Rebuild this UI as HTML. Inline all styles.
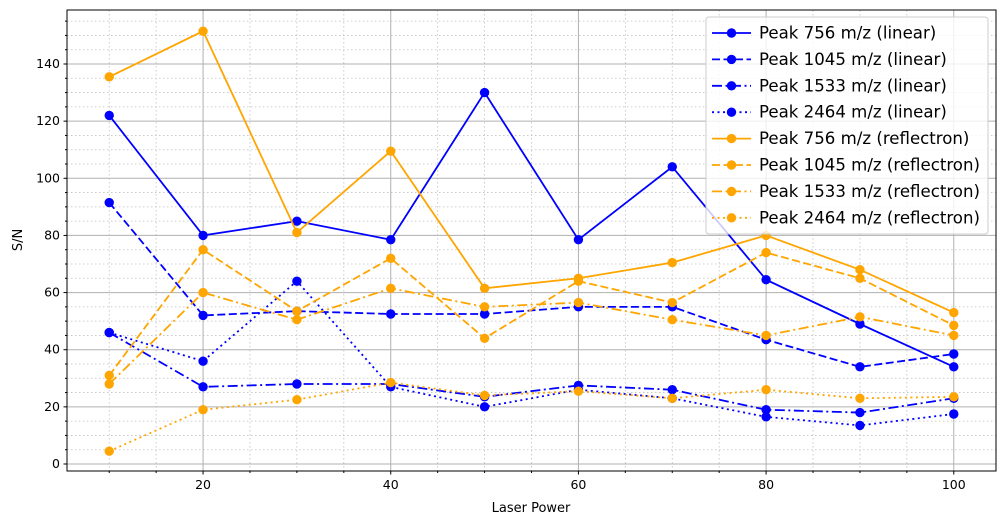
<!DOCTYPE html>
<html><head><meta charset="utf-8"><style>
body{margin:0;background:#fff;font-family:"Liberation Sans","DejaVu Sans",sans-serif}
</style></head><body>
<svg id="chart" width="1005" height="525" xmlns="http://www.w3.org/2000/svg" font-family="DejaVu Sans, Liberation Sans, sans-serif">
<g id="grid"></g>
<g id="series"></g>
<rect x="67" y="10" width="929" height="461" fill="none" stroke="#000" stroke-width="1"/>
<g id="ticks"></g>
<text x="531" y="512" font-size="13" text-anchor="middle">Laser Power</text>
<text transform="translate(22,240) rotate(-90)" font-size="13" text-anchor="middle">S/N</text>
<g id="legend"></g>
</svg>
<script>
const xValues=[10,20,30,40,50,60,70,80,90,100];
const lin756=[122,80,85,78.5,130,78.5,104,64.5,49,34];
const lin1045=[91.5,52,53.5,52.5,52.5,55,55,43.5,34,38.5];
const lin1533=[46,27,28,28,23.5,27.5,26,19,18,23];
const lin2464=[46,36,64,27,20,26,23,16.5,13.5,17.5];
const ref756=[135.5,151.5,81,109.5,61.5,65,70.5,80,68,53];
const ref1045=[31,75,53.5,72,44,64,56.5,74,65,48.5];
const ref1533=[28,60,50.5,61.5,55,56.5,50.5,45,51.5,45];
const ref2464=[4.5,19,22.5,28.5,24,25.5,23,26,23,23.5];
const xTicks=[20,40,60,80,100];
const yTicks=[0,20,40,60,80,100,120,140];
const labels=["Peak 756 m/z (linear)","Peak 1045 m/z (linear)","Peak 1533 m/z (linear)","Peak 2464 m/z (linear)","Peak 756 m/z (reflectron)","Peak 1045 m/z (reflectron)","Peak 1533 m/z (reflectron)","Peak 2464 m/z (reflectron)"];
const NS="http://www.w3.org/2000/svg";
const L=67,R=996,T=10,B=471,X0=5.5,X1=104.5,Y0=-2.45,Y1=158.9;
const sx=v=>L+(v-X0)/(X1-X0)*(R-L);
const sy=v=>B-(v-Y0)/(Y1-Y0)*(B-T);
function mk(tag,attrs,parent){const e=document.createElementNS(NS,tag);for(const k in attrs)e.setAttribute(k,attrs[k]);parent.appendChild(e);return e;}
const grid=document.getElementById('grid'),ticks=document.getElementById('ticks');
for(let v=10;v<=100;v+=5){const x=sx(v);const major=v%20===0;
 const g=mk('line',{x1:x,x2:x,y1:T,y2:B,stroke:major?'#b0b0b0':'#c0c0c0','stroke-width':major?1:0.8,'stroke-dasharray':major?'':'1.5,2.5'},grid);
 
 mk('line',{x1:x,x2:x,y1:B,y2:B+(major?3.5:2),stroke:'#000'},ticks);}
for(let v=0;v<=155;v+=5){const y=sy(v);const major=v%20===0;
 const g=mk('line',{x1:L,x2:R,y1:y,y2:y,stroke:major?'#b0b0b0':'#c0c0c0','stroke-width':major?1:0.8,'stroke-dasharray':major?'':'1.5,2.5'},grid);
 
 mk('line',{x1:L,x2:L-(major?3.5:2),y1:y,y2:y,stroke:'#000'},ticks);}
xTicks.forEach(v=>{const t=mk('text',{x:sx(v),y:B+18,'font-size':12.5,'text-anchor':'middle'},ticks);t.textContent=v;
 });
yTicks.forEach(v=>{const t=mk('text',{x:L-7,y:sy(v)+4,'font-size':12.5,'text-anchor':'end'},ticks);t.textContent=v;
 });
const dashes=['','8,3.5','10,3.5,2,3.5','2,3.5'];
const all=[lin756,lin1045,lin1533,lin2464,ref756,ref1045,ref1533,ref2464];
const ser=document.getElementById('series');
all.forEach((d,i)=>{const c=i<4?'#0000ff':'#ffa500';
 const g=mk('g',{},ser);
 mk('polyline',{points:d.map((v,j)=>sx(xValues[j])+','+sy(v)).join(' '),fill:'none',stroke:c,'stroke-width':1.8,'stroke-dasharray':dashes[i%4]},g);
 d.forEach((v,j)=>{const p=mk('circle',{cx:sx(xValues[j]),cy:sy(v),r:4.7,fill:c},g);
  });});
const lg=document.getElementById('legend');
mk('rect',{x:706,y:17,width:282,height:217,rx:3,fill:'#fff','fill-opacity':0.8,stroke:'#ccc'},lg);
labels.forEach((s,i)=>{const y=33+i*26.4;const c=i<4?'#0000ff':'#ffa500';
 const g=mk('g',{},lg);
 mk('line',{x1:712,x2:751,y1:y,y2:y,stroke:c,'stroke-width':1.8,'stroke-dasharray':dashes[i%4]},g);
 mk('circle',{cx:731.5,cy:y,r:4.7,fill:c},g);
 const t=mk('text',{x:759,y:y+5.5,'font-size':16.6},g);t.textContent=s;});
</script>
</body></html>
